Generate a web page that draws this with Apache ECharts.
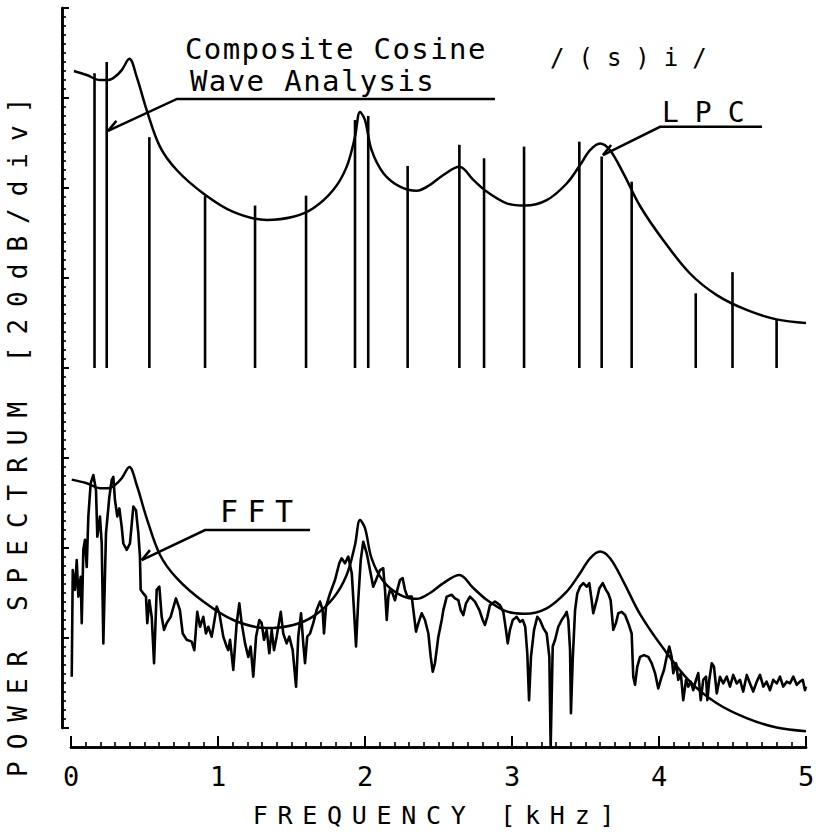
<!DOCTYPE html>
<html>
<head>
<meta charset="utf-8">
<script src="https://cdn.jsdelivr.net/npm/echarts@6/dist/echarts.min.js"></script>
<style>
html, body { margin: 0; padding: 0; background: #fff; }
#chart { width: 819px; height: 836px; }
svg text[style*="26px"] { letter-spacing: 12px; }
svg text[style*="25px"] { letter-spacing: 9.7px; }
svg text[style*="28px"] { letter-spacing: 16px; }
svg text[style*="30px"] { letter-spacing: 9.4px; }
svg text[style*="24px"] { letter-spacing: 14px; }
svg text[style*="29px"] { letter-spacing: 1.4px; }
</style>
</head>
<body>
<div id="chart"></div>
<script>
// ---------------- data (frequency in kHz, level in dB) ----------------
const freqTickLabels = ['0', '1', '2', '3', '4', '5'];

const cosineBase = 80;
const cosineComponents = [
  [0.16, 145.5], [0.243, 148.0], [0.533, 131.3], [0.912, 118.2], [1.252, 116.1],
  [1.599, 118.3], [1.932, 135.1], [2.022, 136.0], [2.29, 124.9], [2.642, 129.6],
  [2.81, 126.6], [3.082, 129.2], [3.458, 130.3], [3.61, 127.0], [3.814, 121.4],
  [4.25, 96.6], [4.50, 101.3], [4.80, 90.7]
];

const lpcUpper = [
  [0.02,146.0],[0.107,145.1],[0.197,144.0],[0.254,144.0],[0.299,144.7],[0.345,146.2],
  [0.397,148.7],[0.447,144.7],[0.515,137.3],[0.605,129.2],[0.719,124.0],[0.9,118.8],
  [1.104,114.7],[1.331,112.9],[1.512,113.6],[1.648,115.5],[1.785,119.6],[1.875,124.7],
  [1.932,131.4],[1.966,136.9],[2.0,135.1],[2.045,128.4],[2.125,123.3],[2.238,120.3],
  [2.352,119.4],[2.442,120.7],[2.533,122.9],[2.642,124.7],[2.737,121.8],[2.828,119.2],
  [2.964,116.6],[3.088,116.1],[3.236,117.3],[3.372,121.0],[3.463,125.1],[3.531,128.4],
  [3.599,129.9],[3.667,128.4],[3.757,123.3],[3.871,116.0],[4.029,108.4],[4.211,101.0],
  [4.393,96.2],[4.596,92.9],[4.8,90.8],[5.0,90.0]
];

const lpcLower = [
  [0.005,55.2],[0.107,54.4],[0.197,53.3],[0.254,53.3],[0.299,54.0],[0.345,55.5],
  [0.397,58.0],[0.447,54.0],[0.515,46.6],[0.605,38.5],[0.719,33.3],[0.9,28.1],
  [1.104,24.0],[1.331,22.2],[1.512,22.9],[1.648,24.8],[1.785,28.9],[1.875,34.0],
  [1.932,40.7],[1.966,46.2],[2.0,44.4],[2.045,37.7],[2.125,32.6],[2.238,29.6],
  [2.352,28.7],[2.442,30.0],[2.533,32.2],[2.642,34.0],[2.737,31.1],[2.828,28.5],
  [2.964,25.9],[3.088,25.4],[3.236,26.6],[3.372,30.3],[3.463,34.4],[3.531,37.7],
  [3.599,39.2],[3.667,37.7],[3.757,32.6],[3.871,25.3],[4.029,17.7],[4.211,10.3],
  [4.393,5.5],[4.596,2.2],[4.8,0.1],[5.0,-0.7]
];

const fftSpectrum = [
  [0.005,11.4],[0.012,35.1],[0.027,30.7],[0.039,37.3],[0.050,29.2],[0.066,33.6],[0.073,23.3],[0.084,39.6],
  [0.095,41.8],[0.107,35.8],[0.118,47.0],[0.134,54.4],[0.152,56.2],[0.170,52.9],[0.179,42.5],[0.197,47.0],
  [0.209,41.0],[0.220,18.8],[0.238,43.3],[0.261,51.4],[0.277,55.1],[0.288,55.8],[0.299,50.7],[0.315,47.0],
  [0.329,48.8],[0.345,44.7],[0.356,41.0],[0.379,39.6],[0.401,41.0],[0.424,49.2],[0.442,48.4],[0.458,43.3],
  [0.469,38.1],[0.474,30.7],[0.492,29.9],[0.510,29.2],[0.519,23.3],[0.533,28.4],[0.549,24.7],[0.565,14.4],
  [0.583,30.7],[0.601,31.4],[0.617,24.7],[0.633,21.8],[0.651,23.3],[0.678,24.7],[0.714,28.8],[0.741,26.2],
  [0.760,21.0],[0.787,19.6],[0.821,19.2],[0.839,17.3],[0.859,25.8],[0.878,22.5],[0.900,24.7],[0.918,21.0],
  [0.934,22.5],[0.957,20.3],[0.973,23.3],[0.991,27.0],[1.009,25.5],[1.036,20.3],[1.059,18.1],[1.070,17.3],
  [1.082,19.6],[1.104,12.9],[1.127,23.3],[1.145,27.7],[1.161,23.3],[1.184,18.8],[1.206,15.8],[1.222,18.1],
  [1.240,11.4],[1.259,20.3],[1.281,24.0],[1.297,23.3],[1.313,19.6],[1.331,21.8],[1.349,16.6],[1.365,21.8],
  [1.381,17.3],[1.399,20.3],[1.427,25.8],[1.444,21.0],[1.467,18.8],[1.485,20.3],[1.508,17.3],[1.531,9.2],
  [1.546,20.3],[1.565,25.5],[1.580,18.8],[1.592,14.4],[1.607,20.3],[1.626,21.0],[1.648,23.3],[1.671,26.2],
  [1.694,28.1],[1.712,26.2],[1.721,21.0],[1.735,27.0],[1.762,29.9],[1.796,32.9],[1.825,36.6],[1.841,37.7],
  [1.864,36.6],[1.886,38.1],[1.910,34.4],[1.925,26.2],[1.939,18.1],[1.954,28.4],[1.971,37.3],[1.988,41.4],
  [2.012,38.8],[2.034,35.1],[2.056,31.4],[2.075,32.9],[2.102,35.1],[2.124,35.5],[2.136,30.7],[2.148,24.0],
  [2.159,29.2],[2.170,30.7],[2.188,29.9],[2.204,28.4],[2.220,30.7],[2.238,32.9],[2.256,33.3],[2.272,30.7],
  [2.288,29.2],[2.318,29.2],[2.329,26.2],[2.347,21.4],[2.363,23.3],[2.386,25.5],[2.408,24.0],[2.431,21.0],
  [2.447,15.8],[2.461,12.5],[2.476,14.4],[2.499,20.3],[2.522,24.0],[2.533,26.2],[2.556,29.2],[2.590,29.6],
  [2.612,28.8],[2.635,28.4],[2.651,26.2],[2.669,25.1],[2.687,27.7],[2.714,29.2],[2.748,28.1],[2.778,26.2],
  [2.801,24.0],[2.816,22.9],[2.832,24.7],[2.850,27.3],[2.884,28.1],[2.918,27.3],[2.941,25.8],[2.959,21.8],
  [2.971,18.8],[2.986,21.8],[3.005,24.0],[3.032,24.7],[3.054,23.6],[3.073,24.0],[3.090,22.5],[3.104,16.6],
  [3.116,6.2],[3.129,15.8],[3.150,21.8],[3.172,24.7],[3.190,24.0],[3.213,22.2],[3.236,21.0],[3.254,15.8],
  [3.263,-4.2],[3.277,18.1],[3.293,19.6],[3.315,22.5],[3.338,24.0],[3.361,25.1],[3.372,25.8],[3.383,24.0],
  [3.395,17.3],[3.401,3.3],[3.413,15.1],[3.429,26.2],[3.444,29.9],[3.463,31.4],[3.485,32.2],[3.508,31.4],
  [3.526,32.2],[3.542,28.4],[3.553,25.5],[3.576,28.4],[3.594,31.0],[3.617,32.2],[3.639,30.7],[3.655,29.9],
  [3.671,28.4],[3.689,21.8],[3.707,23.3],[3.723,25.5],[3.746,25.8],[3.769,25.1],[3.791,23.3],[3.814,21.0],
  [3.825,11.4],[3.837,9.6],[3.852,13.6],[3.871,15.8],[3.898,16.2],[3.927,15.8],[3.950,14.4],[3.973,12.2],
  [3.995,8.8],[4.018,11.4],[4.034,12.9],[4.052,15.8],[4.070,18.1],[4.086,15.8],[4.097,12.2],[4.116,14.4],
  [4.131,10.7],[4.148,12.2],[4.165,6.2],[4.184,10.7],[4.199,9.2],[4.216,10.3],[4.233,8.4],[4.252,10.7],
  [4.267,12.2],[4.284,6.2],[4.301,10.7],[4.320,11.4],[4.329,6.2],[4.342,10.7],[4.359,14.4],[4.374,13.6],
  [4.393,7.7],[4.415,11.4],[4.437,9.9],[4.461,11.4],[4.483,9.2],[4.505,11.8],[4.529,9.9],[4.551,10.7],
  [4.573,8.1],[4.597,11.8],[4.619,9.9],[4.641,8.1],[4.665,10.3],[4.687,11.8],[4.710,9.2],[4.732,10.3],
  [4.755,8.4],[4.777,10.7],[4.801,9.9],[4.823,11.4],[4.845,9.2],[4.869,10.3],[4.891,9.9],[4.914,11.4],
  [4.937,9.6],[4.959,10.3],[4.978,10.7],[4.993,8.4],[5.0,9.2]
];

// annotation leader lines (data coordinates: kHz, dB), arrow tip last
const compositeLeader = [[2.884, 139.8], [0.721, 139.8], [0.252, 132.7]];
const lpcLeader = [[4.701, 133.6], [4.007, 133.6], [3.619, 127.3]];
const fftLeader = [[1.626, 44.0], [0.912, 44.0], [0.481, 37.3]];

// ---------------- chart ----------------
const FONT = 'DejaVu Sans Mono';
const chart = echarts.init(document.getElementById('chart'), null, { renderer: 'svg', width: 819, height: 836 });

const lineCommon = { type: 'line', showSymbol: false, symbol: 'none', clip: false, silent: true, animation: false };
const axisLineStyle = { color: '#000', width: 2.5 };

chart.setOption({
  animation: false,
  backgroundColor: '#fff',
  grid: { left: 71, right: 13, top: 8, bottom: 108, containLabel: false },
  xAxis: [
    {
      type: 'value', position: 'bottom', min: 0, max: 5, interval: 1, offset: 19,
      axisLine: { show: true, onZero: false, lineStyle: axisLineStyle },
      axisTick: { show: true, inside: true, length: 11, lineStyle: { color: '#000', width: 2 } },
      splitLine: { show: false },
      axisLabel: { color: '#000', fontSize: 27, fontFamily: FONT, margin: 16,
        formatter: v => freqTickLabels[Math.round(v)] },
      name: 'FREQUENCY [kHz]', nameLocation: 'middle', nameGap: 56,
      nameTextStyle: { color: '#000', fontSize: 25, fontFamily: FONT }
    },
    {
      type: 'value', position: 'bottom', min: 0, max: 5, interval: 0.1, offset: 19,
      axisLine: { show: true, onZero: false, lineStyle: axisLineStyle },
      axisTick: { show: true, inside: true, length: 5, lineStyle: { color: '#000', width: 1.6 } },
      splitLine: { show: false },
      axisLabel: { show: false }
    }
  ],
  yAxis: [
    {
      type: 'value', position: 'left', min: 0, max: 160, interval: 20, offset: 9,
      axisLine: { show: true, onZero: false, lineStyle: axisLineStyle },
      axisTick: { show: true, inside: true, length: 7, lineStyle: { color: '#000', width: 2 } },
      splitLine: { show: false },
      axisLabel: { show: false }
    },
    {
      type: 'value', position: 'left', min: 0, max: 160, interval: 2, offset: 9,
      axisLine: { show: true, onZero: false, lineStyle: axisLineStyle },
      axisTick: { show: true, inside: true, length: 4, lineStyle: { color: '#000', width: 1.6 } },
      splitLine: { show: false },
      axisLabel: { show: false }
    }
  ],
  series: [
    Object.assign({}, lineCommon, { name: 'LPC', data: lpcUpper, smooth: 0.35,
      lineStyle: { color: '#000', width: 2.5 } }),
    Object.assign({}, lineCommon, { name: 'LPC (lower)', data: lpcLower, smooth: 0.35,
      lineStyle: { color: '#000', width: 2.5 } }),
    Object.assign({}, lineCommon, { name: 'FFT', data: fftSpectrum, smooth: false,
      lineStyle: { color: '#000', width: 2.6, join: 'round' } }),
    {
      type: 'custom', name: 'Composite Cosine Wave Analysis', data: cosineComponents,
      xAxisIndex: 1, yAxisIndex: 1,
      silent: true, animation: false, clip: false,
      renderItem: function (params, api) {
        const p0 = api.coord([api.value(0), cosineBase]);
        const p1 = api.coord([api.value(0), api.value(1)]);
        return { type: 'line', shape: { x1: p0[0], y1: p0[1], x2: p1[0], y2: p1[1] },
          style: { stroke: '#000', lineWidth: 2.6 } };
      }
    }
  ]
});

function leader(points) {
  const px = points.map(p => chart.convertToPixel({ xAxisIndex: 0, yAxisIndex: 0 }, p));
  const tip = px[px.length - 1], prev = px[px.length - 2];
  const ang = Math.atan2(prev[1] - tip[1], prev[0] - tip[0]) - 25 * Math.PI / 180;
  const L = 13;
  return [
    { type: 'polyline', silent: true, shape: { points: px },
      style: { stroke: '#000', lineWidth: 2.5, fill: null } },
    { type: 'line', silent: true,
      shape: { x1: tip[0], y1: tip[1], x2: tip[0] + L * Math.cos(ang), y2: tip[1] + L * Math.sin(ang) },
      style: { stroke: '#000', lineWidth: 2.5 } }
  ];
}

function label(text, x, y, size, extra) {
  return Object.assign({ type: 'text', x: x, y: y, silent: true,
    style: { text: text, fontSize: size, fontFamily: FONT, fill: '#000',
      align: 'left', verticalAlign: 'middle', textAlign: 'left', textVerticalAlign: 'middle' } }, extra || {});
}

chart.setOption({
  graphic: [].concat(
    leader(compositeLeader),
    leader(lpcLeader),
    leader(fftLeader),
    [
      label('Composite Cosine', 185, 49, 29),
      label('Wave Analysis', 190, 81, 29),
      label('/(s)i/', 550, 58, 24),
      label('LPC', 662, 112, 28),
      label('FFT', 220, 511, 30),
      label('POWER SPECTRUM [20dB/div]', 17.5, 777, 26, { rotation: Math.PI / 2 })
    ]
  )
});
</script>
</body>
</html>
